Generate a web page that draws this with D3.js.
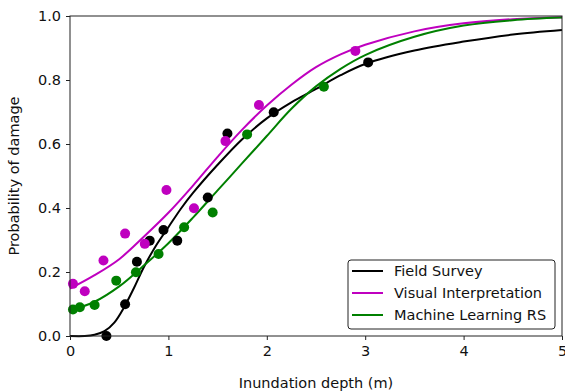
<!DOCTYPE html>
<html>
<head>
<meta charset="utf-8">
<script src="https://cdn.jsdelivr.net/npm/d3@7"></script>
<style>
  body { margin: 0; background: #fff; }
  text { font-family: "DejaVu Sans", sans-serif; }
</style>
</head>
<body>
<div id="chart"></div>
<script>
// observed points (depth m, probability)
const fieldPts = [[0.37, 0.0], [0.56, 0.099], [0.68, 0.232], [0.81, 0.298], [0.95, 0.331], [1.09, 0.298],
    [1.40, 0.433], [1.60, 0.633], [2.07, 0.699], [3.03, 0.855]];
const visualPts = [[0.03, 0.163], [0.15, 0.14], [0.34, 0.236], [0.56, 0.32], [0.76, 0.288], [0.98, 0.456],
    [1.26, 0.399], [1.58, 0.609], [1.92, 0.722], [2.90, 0.891]];
const mlPts = [[0.03, 0.083], [0.10, 0.09], [0.25, 0.097], [0.47, 0.173], [0.67, 0.199], [0.90, 0.256],
    [1.16, 0.34], [1.45, 0.386], [1.80, 0.63], [2.58, 0.779]];

// fitted curves
const fieldCurve = [[0, 0], [0.15, 0], [0.25, 0.004], [0.35, 0.015], [0.45, 0.042], [0.55, 0.09], [0.65, 0.15],
    [0.75, 0.215], [0.875, 0.283], [1.0, 0.34], [1.125, 0.397], [1.25, 0.447], [1.5, 0.535], [1.75, 0.615],
    [2.0, 0.68], [2.25, 0.73], [2.5, 0.772], [2.75, 0.815], [3.0, 0.85], [3.5, 0.892], [4.0, 0.92],
    [4.5, 0.942], [5, 0.956]];
const visualCurve = [[0, 0.148], [0.25, 0.19], [0.5, 0.24], [0.75, 0.31], [1.0, 0.385], [1.25, 0.47],
    [1.5, 0.56], [1.75, 0.645], [2.0, 0.72], [2.25, 0.785], [2.5, 0.84], [2.75, 0.88], [3.0, 0.91],
    [3.5, 0.952], [4.0, 0.977], [4.5, 0.99], [5, 0.996]];
const mlCurve = [[0, 0.08], [0.25, 0.107], [0.5, 0.155], [0.75, 0.22], [1.0, 0.29], [1.25, 0.37],
    [1.5, 0.455], [1.75, 0.54], [2.0, 0.625], [2.25, 0.71], [2.5, 0.78], [2.75, 0.835], [3.0, 0.878],
    [3.5, 0.935], [4.0, 0.97], [4.5, 0.987], [5, 0.995]];

const seriesNames = ["Field Survey", "Visual Interpretation", "Machine Learning RS"];
const seriesColors = ["#000000", "#bf00bf", "#008000"];
const xTicks = [0, 1, 2, 3, 4, 5];
const yTicks = [0, 0.2, 0.4, 0.6, 0.8, 1.0];

const width = 565, height = 392;
const margin = { top: 16, right: 3, bottom: 56, left: 70 };
const fontSize = "14.5px";

const svg = d3.select("#chart").append("svg")
    .attr("width", width)
    .attr("height", height);

const x = d3.scaleLinear().domain([0, 5]).range([margin.left, width - margin.right]);
const y = d3.scaleLinear().domain([0, 1]).range([height - margin.bottom, margin.top]);

const plot = svg.append("g");

const line = d3.line()
    .x(d => x(d[0]))
    .y(d => y(d[1]))
    .curve(d3.curveCatmullRom.alpha(0.5));

const curves = [fieldCurve, visualCurve, mlCurve];
const points = [fieldPts, visualPts, mlPts];

curves.forEach((c, i) => {
    plot.append("path")
        .datum(c)
        .attr("fill", "none")
        .attr("stroke", seriesColors[i])
        .attr("stroke-width", 2)
        .attr("d", line);
});

points.forEach((p, i) => {
    plot.append("g")
        .selectAll("circle")
        .data(p)
        .join("circle")
        .attr("cx", d => x(d[0]))
        .attr("cy", d => y(d[1]))
        .attr("r", 5)
        .attr("fill", seriesColors[i]);
});

// frame
svg.append("rect")
    .attr("x", margin.left)
    .attr("y", margin.top)
    .attr("width", width - margin.left - margin.right)
    .attr("height", height - margin.top - margin.bottom)
    .attr("fill", "none")
    .attr("stroke", "#222")
    .attr("stroke-width", 1);

const xAxis = svg.append("g")
    .attr("transform", `translate(0,${height - margin.bottom})`)
    .call(d3.axisBottom(x).tickValues(xTicks).tickFormat(d3.format("d")).tickSize(4).tickPadding(6));
const yAxis = svg.append("g")
    .attr("transform", `translate(${margin.left},0)`)
    .call(d3.axisLeft(y).tickValues(yTicks).tickFormat(d3.format(".1f")).tickSize(4).tickPadding(5));

[xAxis, yAxis].forEach(a => {
    a.select(".domain").remove();
    a.selectAll("line").attr("stroke", "#222");
    a.selectAll("text")
        .attr("fill", "#111")
        .style("font-size", fontSize)
        .style("font-family", "DejaVu Sans, sans-serif");
});

svg.append("text")
    .attr("x", (margin.left + width - margin.right) / 2)
    .attr("y", 388)
    .attr("text-anchor", "middle")
    .style("font-size", fontSize)
    .attr("fill", "#111")
    .text("Inundation depth (m)");

svg.append("text")
    .attr("transform", `translate(19,${(margin.top + height - margin.bottom) / 2}) rotate(-90)`)
    .attr("text-anchor", "middle")
    .style("font-size", fontSize)
    .attr("fill", "#111")
    .text("Probability of damage");

// legend
const legend = svg.append("g").attr("transform", "translate(348,260)");
legend.append("rect")
    .attr("width", 207)
    .attr("height", 69)
    .attr("rx", 3)
    .attr("fill", "#fff")
    .attr("stroke", "#222")
    .attr("stroke-width", 1);

seriesNames.forEach((name, i) => {
    const row = legend.append("g").attr("transform", `translate(0,${11 + i * 22})`);
    row.append("line")
        .attr("x1", 4).attr("x2", 35)
        .attr("stroke", seriesColors[i])
        .attr("stroke-width", 2);
    row.append("text")
        .attr("x", 46)
        .attr("dy", "0.35em")
        .style("font-size", fontSize)
        .attr("fill", "#111")
        .text(name);
});
</script>
</body>
</html>
